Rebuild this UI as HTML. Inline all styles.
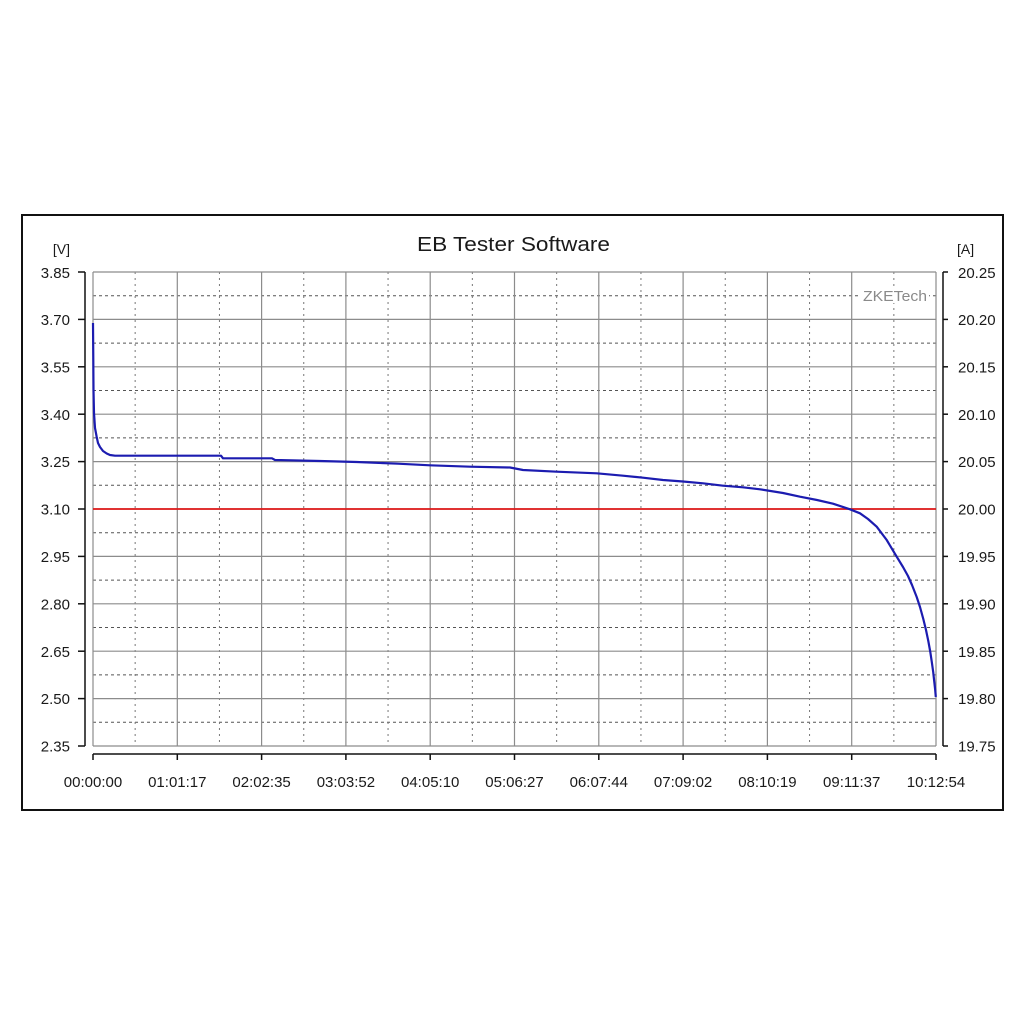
<!DOCTYPE html>
<html>
<head>
<meta charset="utf-8">
<style>
html,body{margin:0;padding:0;background:#fff;}
svg{display:block;}
text{font-family:"Liberation Sans",Arial,sans-serif;fill:#1a1a1a;}
</style>
</head>
<body>
<svg width="1024" height="1024" viewBox="0 0 1024 1024" xmlns="http://www.w3.org/2000/svg">
<rect width="1024" height="1024" fill="#fff"/>
<rect x="22" y="215" width="981" height="595" fill="none" stroke="#111" stroke-width="2"/>

<text x="417" y="251" font-size="20" textLength="193" lengthAdjust="spacingAndGlyphs">EB Tester Software</text>

<g stroke="#555" stroke-width="1" stroke-dasharray="3 3" fill="none">
<line x1="93" y1="295.7" x2="936" y2="295.7"/>
<line x1="93" y1="343.1" x2="936" y2="343.1"/>
<line x1="93" y1="390.5" x2="936" y2="390.5"/>
<line x1="93" y1="437.9" x2="936" y2="437.9"/>
<line x1="93" y1="485.3" x2="936" y2="485.3"/>
<line x1="93" y1="532.7" x2="936" y2="532.7"/>
<line x1="93" y1="580.1" x2="936" y2="580.1"/>
<line x1="93" y1="627.5" x2="936" y2="627.5"/>
<line x1="93" y1="674.9" x2="936" y2="674.9"/>
<line x1="93" y1="722.3" x2="936" y2="722.3"/>
</g>
<g stroke="#777" stroke-width="1" stroke-dasharray="2 4" fill="none">
<line x1="135.15" y1="272" x2="135.15" y2="746"/>
<line x1="219.45" y1="272" x2="219.45" y2="746"/>
<line x1="303.75" y1="272" x2="303.75" y2="746"/>
<line x1="388.05" y1="272" x2="388.05" y2="746"/>
<line x1="472.35" y1="272" x2="472.35" y2="746"/>
<line x1="556.65" y1="272" x2="556.65" y2="746"/>
<line x1="640.95" y1="272" x2="640.95" y2="746"/>
<line x1="725.25" y1="272" x2="725.25" y2="746"/>
<line x1="809.55" y1="272" x2="809.55" y2="746"/>
<line x1="893.85" y1="272" x2="893.85" y2="746"/>
</g>
<g stroke="#8c8c8c" stroke-width="1.2" fill="none">
<line x1="93" y1="272" x2="936" y2="272"/>
<line x1="93" y1="319.4" x2="936" y2="319.4"/>
<line x1="93" y1="366.8" x2="936" y2="366.8"/>
<line x1="93" y1="414.2" x2="936" y2="414.2"/>
<line x1="93" y1="461.6" x2="936" y2="461.6"/>
<line x1="93" y1="509" x2="936" y2="509"/>
<line x1="93" y1="556.4" x2="936" y2="556.4"/>
<line x1="93" y1="603.8" x2="936" y2="603.8"/>
<line x1="93" y1="651.2" x2="936" y2="651.2"/>
<line x1="93" y1="698.6" x2="936" y2="698.6"/>
<line x1="93" y1="746" x2="936" y2="746"/>
<line x1="93" y1="272" x2="93" y2="746"/>
<line x1="177.3" y1="272" x2="177.3" y2="746"/>
<line x1="261.6" y1="272" x2="261.6" y2="746"/>
<line x1="345.9" y1="272" x2="345.9" y2="746"/>
<line x1="430.2" y1="272" x2="430.2" y2="746"/>
<line x1="514.5" y1="272" x2="514.5" y2="746"/>
<line x1="598.8" y1="272" x2="598.8" y2="746"/>
<line x1="683.1" y1="272" x2="683.1" y2="746"/>
<line x1="767.4" y1="272" x2="767.4" y2="746"/>
<line x1="851.7" y1="272" x2="851.7" y2="746"/>
<line x1="936" y1="272" x2="936" y2="746"/>
</g>

<rect x="861" y="288" width="68" height="15" fill="#fff"/>
<text x="863" y="301" font-size="15" style="fill:#8a8a8a" textLength="64" lengthAdjust="spacingAndGlyphs">ZKETech</text>

<line x1="93" y1="509" x2="936" y2="509" stroke="#e01818" stroke-width="1.8"/>

<polyline fill="none" stroke="#1c1cb0" stroke-width="2.2" stroke-linejoin="round" points="
93,323 93.3,360 93.5,390 94,413 95,428 96.7,437 98,443 100,447 103,451 106.7,453.5 110,455 115,455.7 160,455.7 221,455.7 223,458.3 272,458.3 275,460 320,461 356.7,462 398,463.7 430,465.3 470,466.7 510,467.5 523,470 556.7,471.7 596.7,473.3 623,475.7 643,477.7 663,480 683,481.5 703,483.3 723,485.7 743,487.3 760,489.3 783,493 800,496.7 817,500 833,503.7 850,509.3 860,513.3 868,519 876.7,526.7 886.7,540 896.7,556.7 903,567 908,576 912,585 916.7,597 920,607 923.3,619 926,630 928.3,641 930.3,652 931.8,662 933.2,672 934.3,682 935.2,690 935.8,697"/>

<g stroke="#111" stroke-width="1.5" fill="none">
<line x1="85" y1="272" x2="85" y2="746"/>
<line x1="78" y1="272" x2="85" y2="272"/>
<line x1="78" y1="319.4" x2="85" y2="319.4"/>
<line x1="78" y1="366.8" x2="85" y2="366.8"/>
<line x1="78" y1="414.2" x2="85" y2="414.2"/>
<line x1="78" y1="461.6" x2="85" y2="461.6"/>
<line x1="78" y1="509" x2="85" y2="509"/>
<line x1="78" y1="556.4" x2="85" y2="556.4"/>
<line x1="78" y1="603.8" x2="85" y2="603.8"/>
<line x1="78" y1="651.2" x2="85" y2="651.2"/>
<line x1="78" y1="698.6" x2="85" y2="698.6"/>
<line x1="78" y1="746" x2="85" y2="746"/>
<line x1="943" y1="272" x2="943" y2="746"/>
<line x1="943" y1="272" x2="948" y2="272"/>
<line x1="943" y1="319.4" x2="948" y2="319.4"/>
<line x1="943" y1="366.8" x2="948" y2="366.8"/>
<line x1="943" y1="414.2" x2="948" y2="414.2"/>
<line x1="943" y1="461.6" x2="948" y2="461.6"/>
<line x1="943" y1="509" x2="948" y2="509"/>
<line x1="943" y1="556.4" x2="948" y2="556.4"/>
<line x1="943" y1="603.8" x2="948" y2="603.8"/>
<line x1="943" y1="651.2" x2="948" y2="651.2"/>
<line x1="943" y1="698.6" x2="948" y2="698.6"/>
<line x1="943" y1="746" x2="948" y2="746"/>
<line x1="93" y1="754" x2="936" y2="754"/>
<line x1="93" y1="754" x2="93" y2="760"/>
<line x1="177.3" y1="754" x2="177.3" y2="760"/>
<line x1="261.6" y1="754" x2="261.6" y2="760"/>
<line x1="345.9" y1="754" x2="345.9" y2="760"/>
<line x1="430.2" y1="754" x2="430.2" y2="760"/>
<line x1="514.5" y1="754" x2="514.5" y2="760"/>
<line x1="598.8" y1="754" x2="598.8" y2="760"/>
<line x1="683.1" y1="754" x2="683.1" y2="760"/>
<line x1="767.4" y1="754" x2="767.4" y2="760"/>
<line x1="851.7" y1="754" x2="851.7" y2="760"/>
<line x1="936" y1="754" x2="936" y2="760"/>
</g>

<text x="70" y="254" font-size="14" text-anchor="end">[V]</text>
<text x="957" y="254" font-size="14">[A]</text>

<g font-size="15" text-anchor="end">
<text x="70" y="278">3.85</text>
<text x="70" y="325">3.70</text>
<text x="70" y="372.5">3.55</text>
<text x="70" y="420">3.40</text>
<text x="70" y="467">3.25</text>
<text x="70" y="514.5">3.10</text>
<text x="70" y="562">2.95</text>
<text x="70" y="609.5">2.80</text>
<text x="70" y="657">2.65</text>
<text x="70" y="704">2.50</text>
<text x="70" y="751.5">2.35</text>
</g>
<g font-size="15">
<text x="958" y="278">20.25</text>
<text x="958" y="325">20.20</text>
<text x="958" y="372.5">20.15</text>
<text x="958" y="420">20.10</text>
<text x="958" y="467">20.05</text>
<text x="958" y="514.5">20.00</text>
<text x="958" y="562">19.95</text>
<text x="958" y="609.5">19.90</text>
<text x="958" y="657">19.85</text>
<text x="958" y="704">19.80</text>
<text x="958" y="751.5">19.75</text>
</g>
<g font-size="15" text-anchor="middle">
<text x="93" y="787">00:00:00</text>
<text x="177.3" y="787">01:01:17</text>
<text x="261.6" y="787">02:02:35</text>
<text x="345.9" y="787">03:03:52</text>
<text x="430.2" y="787">04:05:10</text>
<text x="514.5" y="787">05:06:27</text>
<text x="598.8" y="787">06:07:44</text>
<text x="683.1" y="787">07:09:02</text>
<text x="767.4" y="787">08:10:19</text>
<text x="851.7" y="787">09:11:37</text>
<text x="936" y="787">10:12:54</text>
</g>
</svg>
</body>
</html>
